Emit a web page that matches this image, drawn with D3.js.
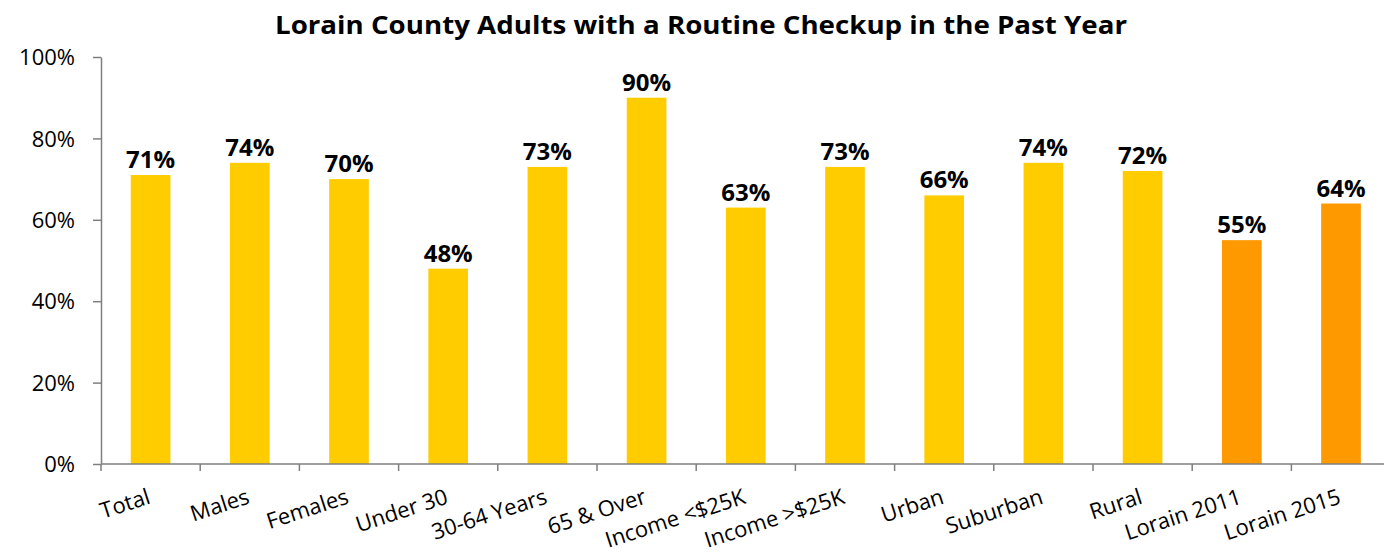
<!DOCTYPE html>
<html>
<head>
<meta charset="utf-8">
<script src="https://cdn.jsdelivr.net/npm/d3@7"></script>
<style>
  html, body { margin: 0; padding: 0; background: #fff; }
  svg { display: block; }
  text { font-family: "Open Sans", "Noto Sans", sans-serif; fill: #000; }
</style>
</head>
<body>
<svg id="chart" width="1384" height="554"></svg>
<script>
// Share of adults with a routine checkup in the past year, by group
const categories = ["Total", "Males", "Females", "Under 30", "30-64 Years", "65 & Over",
  "Income <$25K", "Income >$25K", "Urban", "Suburban", "Rural", "Lorain 2011", "Lorain 2015"];
const values = [71, 74, 70, 48, 73, 90, 63, 73, 66, 74, 72, 55, 64];
const comparisonGroups = ["Lorain 2011", "Lorain 2015"];
const yTicks = [0, 20, 40, 60, 80, 100];
const title = "Lorain County Adults with a Routine Checkup in the Past Year";

const svg = d3.select("#chart");
const plotLeft = 101, plotTop = 57, plotBottom = 464;
const bandW = 99.2;
const plotRight = plotLeft + bandW * categories.length;

const x = d3.scaleBand().domain(categories).range([plotLeft, plotRight]).paddingInner(0.6).paddingOuter(0.3);
const y = d3.scaleLinear().domain([0, 100]).range([plotBottom, plotTop]);

// Title
svg.append("text")
  .attr("x", 701).attr("y", 34)
  .attr("text-anchor", "middle")
  .attr("font-size", 25).attr("font-weight", "bold")
  .attr("textLength", 852).attr("lengthAdjust", "spacingAndGlyphs")
  .text(title);

// Bars
svg.append("g").selectAll("rect")
  .data(categories)
  .join("rect")
  .attr("x", d => x(d))
  .attr("width", x.bandwidth())
  .attr("y", (d, i) => y(values[i]))
  .attr("height", (d, i) => y(0) - y(values[i]))
  .attr("fill", d => comparisonGroups.includes(d) ? "#FF9900" : "#FFCC00");

// Value labels
svg.append("g").selectAll("text")
  .data(categories)
  .join("text")
  .attr("x", d => x(d) + x.bandwidth() / 2)
  .attr("y", (d, i) => y(values[i]) - 7)
  .attr("text-anchor", "middle")
  .attr("font-size", 24).attr("font-weight", "bold")
  .text((d, i) => values[i] + "%");

// Y axis
const yAxis = svg.append("g")
  .attr("transform", `translate(${plotLeft},0)`)
  .call(d3.axisLeft(y).tickValues(yTicks).tickFormat(d => d + "%").tickSize(8).tickSizeOuter(0));
yAxis.select(".domain").attr("stroke", "#7f7f7f").attr("stroke-width", 1.5);
yAxis.selectAll(".tick line").attr("stroke", "#7f7f7f").attr("stroke-width", 1.5);
yAxis.selectAll(".tick text")
  .attr("x", -26).attr("dy", "0.35em")
  .attr("font-size", 22).attr("font-family", "\"Open Sans\", sans-serif")
  .attr("fill", "#000");

// X axis: ticks mark the category boundaries
const xg = svg.append("g").attr("transform", `translate(0,${plotBottom})`);
xg.append("line")
  .attr("x1", plotLeft).attr("x2", plotRight)
  .attr("stroke", "#7f7f7f").attr("stroke-width", 1.5);
xg.selectAll("line.tick")
  .data(d3.range(categories.length + 1))
  .join("line")
  .attr("class", "tick")
  .attr("x1", i => plotLeft + i * x.step()).attr("x2", i => plotLeft + i * x.step())
  .attr("y1", 0).attr("y2", 7)
  .attr("stroke", "#7f7f7f").attr("stroke-width", 1.5);

// Rotated category labels, anchored at the end of the baseline
xg.selectAll("text")
  .data(categories)
  .join("text")
  .attr("transform", d => `translate(${x(d) + x.bandwidth() / 2 + 1},${39}) rotate(-18)`)
  .attr("text-anchor", "end")
  .attr("font-size", 22)
  .text(d => d);
</script>
</body>
</html>
